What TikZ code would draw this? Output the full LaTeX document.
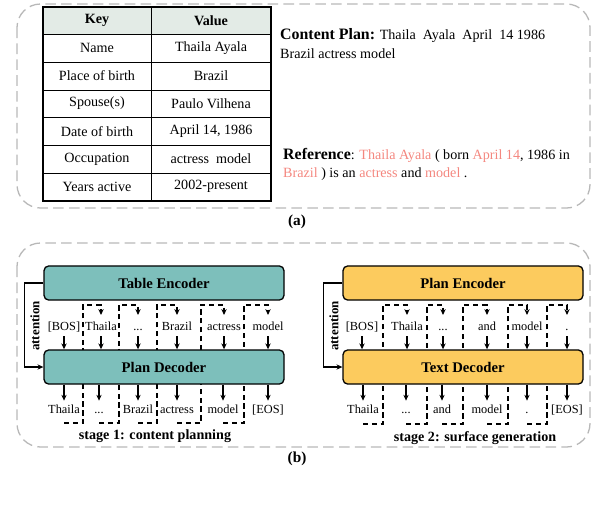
\documentclass[tikz,border=0pt]{standalone}
\usepackage{fontspec}
\setmainfont{Liberation Serif}
\usetikzlibrary{positioning,arrows.meta}

\definecolor{tealbox}{HTML}{7DBFBB}
\definecolor{orangebox}{HTML}{FCCB5E}
\definecolor{headgray}{HTML}{E3EBE6}
\definecolor{refred}{HTML}{F4877F}
\definecolor{panelgray}{HTML}{B8B8B8}
\newcommand{\tokdots}{...}

\begin{document}
\begin{tikzpicture}[x=0.85pt, y=-0.85pt,
    panel/.style={draw=panelgray, line width=1.1pt, dash pattern=on 9pt off 4.5pt, rounded corners=20pt},
    cell/.style={font=\fontsize{12}{14}\selectfont, inner sep=1pt},
    block/.style={draw, line width=1.1pt, rounded corners=4pt, minimum width=204pt, minimum height=29pt,
                  inner sep=0pt, font=\fontsize{12.5}{14}\selectfont\bfseries},
    tok/.style={font=\fontsize{10.5}{12}\selectfont, inner xsep=1pt, inner ysep=3pt, text height=7.5pt, text depth=2pt},
    flow/.style={-{Stealth[length=5pt,width=4.5pt]}, line width=0.9pt},
    skip/.style={flow, dash pattern=on 4.5pt off 3pt},
    bold/.style={font=\fontsize{12}{14}\selectfont\bfseries}]
    \useasboundingbox (0,0) rectangle (592,506);

    % (a) table and texts
    \draw[panel] (17,4) rectangle (590,208);
    \fill[headgray] (43,7) rectangle (271,34);
    \foreach \y in {34,62,90,117,145,173}
        \draw[line width=0.7pt] (43,\y) -- (271,\y);
    \draw[line width=0.7pt] (151,7) -- (151,201);
    \draw[line width=1.1pt] (43,7) rectangle (271,201);
    \node[cell, font=\fontsize{12}{14}\selectfont\bfseries] (keyhead) at (97,20.5) {Key};
    \node[cell, font=\fontsize{12}{14}\selectfont\bfseries] (valhead) at (211,20.5) {Value};
    \foreach \k/\v [count=\i] in {Name/Thaila Ayala, Place of birth/Brazil, Spouse(s)/Paulo Vilhena,
                                  Date of birth/{April 14, 1986}, Occupation/actress\ \ model, Years active/2002-present} {
        \node[cell] (key\i) at (97,20.5+27.67*\i) {\k};
        \node[cell] (val\i) at (211,20.5+27.67*\i) {\v};
    }
    % content plan
    \node[anchor=base west, inner sep=0pt, font=\fontsize{12}{14}\selectfont] (plan1) at (280,39)
        {{\fontsize{13.5}{14}\selectfont\bfseries Content Plan:} Thaila\ \ Ayala\ \ April\ \ 14 1986};
    \node[anchor=base west, inner sep=0pt, font=\fontsize{12}{14}\selectfont] (plan2) at (280,58.5)
        {Brazil actress model};
    % reference
    \node[anchor=base west, inner sep=0pt, font=\fontsize{12}{14}\selectfont] (ref1) at (283,159.5)
        {{\fontsize{13.5}{14}\selectfont\bfseries Reference}: \textcolor{refred}{Thaila Ayala} ( born \textcolor{refred}{April 14}, 1986 in};
    \node[anchor=base west, inner sep=0pt, font=\fontsize{12}{14}\selectfont] (ref2) at (283,177.5)
        {\textcolor{refred}{Brazil} ) is an \textcolor{refred}{actress} and \textcolor{refred}{model} .};
    \node[font=\fontsize{13}{14}\selectfont\bfseries] (capa) at (297,222) {(a)};

    % (b) two stages
    \draw[panel] (17,243) rectangle (590,447);
    \node[font=\fontsize{13}{14}\selectfont\bfseries] (capb) at (297,459) {(b)};

    % stage 1 tokens
    \foreach \t/\x [count=\i] in {{[BOS]}/64, Thaila/101, \tokdots/138, Brazil/177, actress/224, model/268}
        \node[tok] (cpin\i) at (\x,327) {\t};
    \foreach \t/\x [count=\i] in {Thaila/64, \tokdots/99, Brazil/138, actress/177, model/223, {[EOS]}/268}
        \node[tok] (cpout\i) at (\x,410) {\t};
    % stage 2 tokens
    \foreach \t/\x [count=\i] in {{[BOS]}/362, Thaila/407, \tokdots/443, and/487, model/527, ./567}
        \node[tok] (sgin\i) at (\x,327) {\t};
    \foreach \t/\x [count=\i] in {Thaila/363, \tokdots/406, and/442, model/487, ./527, {[EOS]}/567}
        \node[tok] (sgout\i) at (\x,410) {\t};

    % dashed feedback from output to next input
    \foreach \i/\v in {1/83,2/119,3/157,4/201,5/244} {
        \pgfmathtruncatemacro{\j}{\i+1}
        \draw[skip] (cpout\i |- 0,423) -- (\v,423) -- (\v,305) -- (cpin\j |- 0,305) -- (cpin\j |- 0,315);
    }
    \foreach \i/\v in {1/383,2/427,3/463,4/508,5/547} {
        \pgfmathtruncatemacro{\j}{\i+1}
        \draw[skip] (sgout\i |- 0,424) -- (\v,424) -- (\v,305) -- (sgin\j |- 0,305) -- (sgin\j |- 0,315);
    }

    % encoders and decoders
    \node[block, fill=tealbox] (tenc) at (164,283) {Table Encoder};
    \node[block, fill=tealbox] (pdec) at (164,367) {Plan Decoder};
    \node[block, fill=orangebox] (penc) at (463,283) {Plan Encoder};
    \node[block, fill=orangebox] (tdec) at (463,367) {Text Decoder};

    % attention
    \draw[flow] (tenc.west) -- ++(-19,0) |- (pdec.west);
    \draw[flow] (penc.west) -- ++(-19,0) |- (tdec.west);
    \node[rotate=90, font=\fontsize{11}{12}\selectfont\bfseries] (att1) at (35,326) {attention};
    \node[rotate=90, font=\fontsize{11}{12}\selectfont\bfseries] (att2) at (334,326) {attention};

    % token arrows
    \foreach \i in {1,...,6} {
        \draw[flow] (cpin\i.south) -- (cpin\i.south |- pdec.north);
        \draw[flow] (cpout\i.north |- pdec.south) -- (cpout\i.north);
        \draw[flow] (sgin\i.south) -- (sgin\i.south |- tdec.north);
        \draw[flow] (sgout\i.north |- tdec.south) -- (sgout\i.north);
    }

    \node[bold] (stage1) at (155,436) {stage 1: content planning};
    \node[bold] (stage2) at (475,438) {stage 2: surface generation};
\end{tikzpicture}
\end{document}
